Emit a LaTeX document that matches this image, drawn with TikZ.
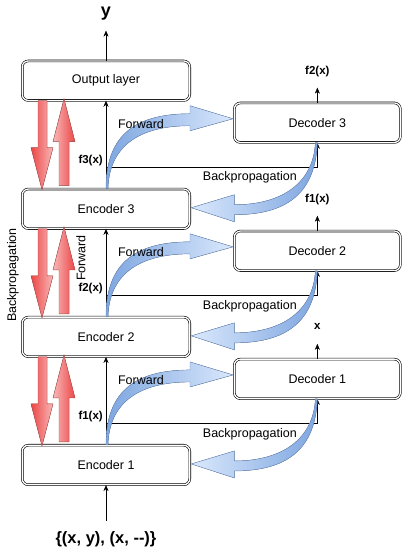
\documentclass[tikz,border=0pt]{standalone}
\usepackage{fontspec}
\setmainfont{Liberation Sans}
\usepackage{xcolor}
\usepackage{tikz}
\usetikzlibrary{positioning, arrows.meta}

\definecolor{bluedark}{HTML}{7EA6E0}
\definecolor{bluelight}{HTML}{DAE8FC}
\definecolor{blueline}{HTML}{6C8EBF}
\definecolor{reddark}{HTML}{EC4646}
\definecolor{redlight}{HTML}{F8B8B8}
\definecolor{redline}{HTML}{B85450}

\tikzset{
  layer/.style={draw, double, double distance=1.3pt, line width=0.6pt, rounded corners=6pt,
    fill=white, minimum height=39.5pt, font=\fontsize{12.5}{15}\selectfont},
  lbl/.style={font=\fontsize{12.5}{15}\selectfont, inner sep=1pt},
  flbl/.style={font=\bfseries\fontsize{11.5}{13}\selectfont, inner sep=1pt},
  biglbl/.style={font=\bfseries\fontsize{18}{21}\selectfont, inner sep=1pt},
  % curved forward band, from encoder top to decoder side
  fwdband/.pic={
    \filldraw[draw=blueline, line width=0.4pt, left color=bluedark, right color=bluelight]
      (0,0) .. controls (0,50) and (25,75) .. (84,75) -- (84,83) -- (127,70) -- (84,58) -- (84,63)
      .. controls (30,63) and (3,40) .. (2,0) -- cycle;
    \node[lbl] at (35,65) {Forward};
  },
  % curved backpropagation band, from decoder bottom to encoder side
  backband/.pic={
    \filldraw[draw=blueline, line width=0.4pt, left color=bluelight, right color=bluedark]
      (0,0) .. controls (-2,-50) and (-30,-72) .. (-83,-72) -- (-83,-79) -- (-126,-65) -- (-83,-52) -- (-83,-62)
      .. controls (-35,-62) and (-4,-40) .. (-2,0) -- cycle;
    \node[lbl] at (-67.5,-35) {Backpropagation};
  },
  % red down/up arrows between two layers
  redpair/.pic={
    \filldraw[draw=redline, line width=0.4pt, left color=reddark, middle color=reddark!80!redlight, right color=redlight]
      (-68,88) -- (-68,41) -- (-75,41) -- (-64,-1) -- (-53,41) -- (-59,41) -- (-59,88) -- cycle;
    \filldraw[draw=redline, line width=0.4pt, left color=redlight, middle color=reddark!80!redlight, right color=reddark]
      (-47,3) -- (-47,47) -- (-53,47) -- (-42,90) -- (-31,47) -- (-37,47) -- (-37,3) -- cycle;
  }
}

\begin{document}
\begin{tikzpicture}[x=1pt, y=1pt, >={Stealth[length=6pt, width=5pt]}]

    \useasboundingbox (0,0) rectangle (402,551);

    \node[layer] (e1) [minimum width=167.5pt] at (106,86) {Encoder 1};
    \node[layer] (e2) [above=88pt of e1, minimum width=167.5pt] {Encoder 2};
    \node[layer] (e3) [above=88pt of e2, minimum width=167.5pt] {Encoder 3};
    \node[layer] (out) [above=88pt of e3, minimum width=167.5pt] {Output layer};

    \node[layer] (d1) [above right=46pt and 44pt of e1, minimum width=166pt] {Decoder 1};
    \node[layer] (d2) [above=88pt of d1, minimum width=166pt] {Decoder 2};
    \node[layer] (d3) [above=88pt of d2, minimum width=166pt] {Decoder 3};

    % input and output
    \coordinate[above=30pt of out] (ytip);
    \node[biglbl] (ylab) [above=9pt of ytip] {y};
    \coordinate[below=36pt of e1] (xin);
    \node[biglbl, font=\bfseries\fontsize{16.5}{19}\selectfont] (inlab) [below=9pt of xin] {\{(x, y), (x, -{}-)\}};

    \coordinate[above=15pt of d3] (d3tip);
    \coordinate[above=15pt of d2] (d2tip);
    \coordinate[above=15pt of d1] (d1tip);
    \node[flbl] (d3lab) [above=10pt of d3tip] {f2(x)};
    \node[flbl] (d2lab) [above=10pt of d2tip] {f1(x)};
    \node[flbl] (d1lab) [above=13pt of d1tip] {x};

    \coordinate[above=22pt of e3] (b3);
    \coordinate[above=22pt of e2] (b2);
    \coordinate[above=22pt of e1] (b1);

    \path[->]
        (xin) edge (e1)
        (e1) edge (e2)
        (e2) edge (e3)
        (e3) edge (out)
        (out) edge (ytip)
        (d3) edge (d3tip)
        (d2) edge (d2tip)
        (d1) edge (d1tip);

    \draw[->] (b3) node[flbl, anchor=south east, xshift=-2pt] {f3(x)} -| (d3);
    \draw[->] (b2) node[flbl, anchor=south east, xshift=-2pt] {f2(x)} -| (d2);
    \draw[->] (b1) node[flbl, anchor=south east, xshift=-2pt] {f1(x)} -| (d1);

    % bands
    \pic at (e3.north) {fwdband};
    \pic at (e2.north) {fwdband};
    \pic at (e1.north) {fwdband};
    \pic at (d3.south) {backband};
    \pic at (d2.south) {backband};
    \pic at (d1.south) {backband};

    \pic at (e3.north) {redpair};
    \pic at (e2.north) {redpair};
    \pic at (e1.north) {redpair};

    \node[lbl, rotate=90] (bplab) at (13,276) {Backpropagation};
    \node[lbl, rotate=90] (fwlab) at (81,293) {Forward};

\end{tikzpicture}
\end{document}
